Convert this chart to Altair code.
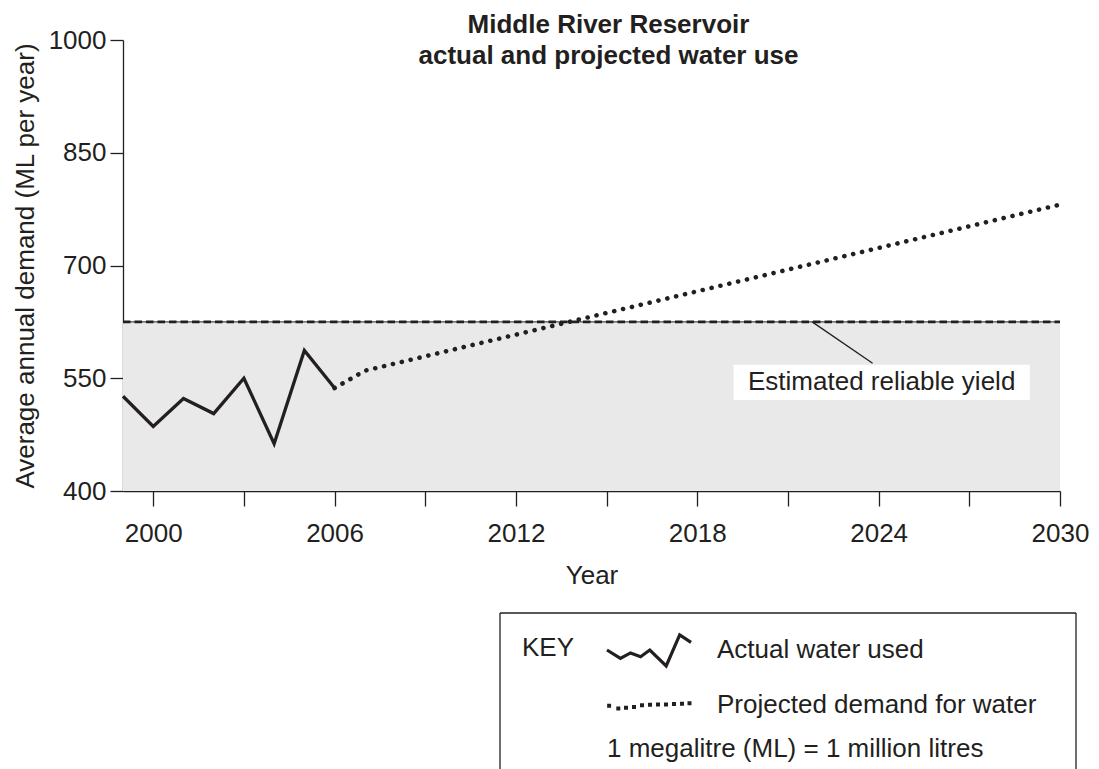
import altair as alt
import pandas as pd

# ---------------- data ----------------
actual_years = [1999, 2000, 2001, 2002, 2003, 2004, 2005, 2006]
actual_values = [526, 486, 523, 503, 550, 463, 587, 537]

projected_years = [2006, 2007, 2030]
projected_values = [537, 560, 781]

reliable_yield = 625
shade_floor = 400

x_domain = [1999, 2030]
y_domain = [400, 1000]
x_tick_values = [2000, 2003, 2006, 2009, 2012, 2015, 2018, 2021, 2024, 2027, 2030]
y_tick_values = [400, 550, 700, 850, 1000]

series_names = ["Actual water used", "Projected demand for water"]

annotation_text = ["Estimated reliable yield"]
annotation_x = [2024.1]
annotation_y = [534]
leader_x = [2021.8]
leader_x2 = [2023.8]
leader_y = [625]
leader_y2 = [570]
label_box_x = [2019.2]
label_box_x2 = [2029.0]
label_box_y = [521]
label_box_y2 = [568]

note_text = ["1 megalitre (ML) = 1 million litres"]

title_lines = ["Middle River Reservoir", "actual and projected water use"]

# ---------------- style ----------------
INK = "#231f20"
FONT = "Liberation Sans"
FS = 26

# key glyph shapes (symbol units; 1 unit = 13 px)
zig_px = [(0, 0), (13.4, 8.4), (23.5, 2.9), (33.6, 6.7), (42.8, 0), (59.2, 16), (72.7, -15.1), (84, -7.6)]
dot_px = [(2.1, 0.8), (11.3, 3.4), (19.0, 2.7), (27.0, 2.0), (35.0, 0.3), (43.0, -0.2),
          (51.0, -0.4), (59.0, -0.6), (67.0, -0.9), (75.0, -1.2), (82.5, -1.7)]
U = 13.0


def to_unit(px, py):
    return (-1 + px / U, py / U)


zig_path = "M" + " L".join(f"{to_unit(px, py)[0]:.3f},{to_unit(px, py)[1]:.3f}" for px, py in zig_px)
d = 0.03
dot_parts = []
for px, py in dot_px:
    ux, uy = to_unit(px, py)
    dot_parts.append(
        f"M{ux - d:.3f},{uy - d:.3f} L{ux + d:.3f},{uy - d:.3f} L{ux + d:.3f},{uy + d:.3f} L{ux - d:.3f},{uy + d:.3f} Z"
    )
dot_path = " ".join(dot_parts)

x_scale = alt.Scale(domain=x_domain, nice=False, zero=False)
y_scale = alt.Scale(domain=y_domain, nice=False, zero=False)

x_axis = alt.Axis(
    values=x_tick_values, format="d",
    labelExpr="(datum.value - 2000) % 6 == 0 ? datum.label : ''",
    tickSize=15, tickWidth=1.3, tickColor=INK, domainColor=INK, domainWidth=1.3,
    labelFontSize=FS, labelColor=INK, labelPadding=14, labelFlush=False, labelOverlap=False,
    title="Year", titleFontSize=FS, titleFontWeight="normal", titleColor=INK, titlePadding=16,
    grid=False,
)
y_axis = alt.Axis(
    values=y_tick_values, format="d",
    tickSize=13, tickWidth=1.3, tickColor=INK, domainColor=INK, domainWidth=1.3,
    labelFontSize=FS, labelColor=INK, labelPadding=4, labelFlush=False, labelOverlap=False,
    title="Average annual demand (ML per year)", titleFontSize=FS, titleFontWeight="normal",
    titleColor=INK, titlePadding=10, grid=False,
)

band_df = pd.DataFrame({"x": [x_domain[0]], "x2": [x_domain[1]], "y": [shade_floor], "y2": [reliable_yield]})
band = alt.Chart(band_df).mark_rect(color="#e9e9e9").encode(
    x=alt.X("x:Q", scale=x_scale, axis=x_axis),
    x2="x2:Q",
    y=alt.Y("y:Q", scale=y_scale, axis=y_axis),
    y2="y2:Q",
)

yield_df = pd.DataFrame({"x": [x_domain[0]], "x2": [x_domain[1]], "y": [reliable_yield]})
yield_thin = alt.Chart(yield_df).mark_rule(color=INK, strokeWidth=1).encode(
    x="x:Q", x2="x2:Q", y="y:Q"
)
yield_dash = alt.Chart(yield_df).mark_rule(color=INK, strokeWidth=2.6, strokeDash=[7.5, 4]).encode(
    x="x:Q", x2="x2:Q", y="y:Q"
)

ann_df = pd.DataFrame({
    "bx": label_box_x, "bx2": label_box_x2, "by": label_box_y, "by2": label_box_y2,
    "lx": leader_x, "lx2": leader_x2, "ly": leader_y, "ly2": leader_y2,
    "tx": annotation_x, "ty": annotation_y, "t": annotation_text,
})
label_box = alt.Chart(ann_df).mark_rect(color="white").encode(
    x="bx:Q", x2="bx2:Q", y="by:Q", y2="by2:Q"
)
leader = alt.Chart(ann_df).mark_rule(color=INK, strokeWidth=1.3).encode(
    x="lx:Q", x2="lx2:Q", y="ly:Q", y2="ly2:Q"
)
ann_text = alt.Chart(ann_df).mark_text(
    fontSize=FS, color=INK, align="center", baseline="alphabetic", font=FONT
).encode(x="tx:Q", y="ty:Q", text="t:N")

actual_df = pd.DataFrame({"year": actual_years, "value": actual_values})
actual_line = alt.Chart(actual_df).mark_line(
    color=INK, strokeWidth=3.3, strokeJoin="miter", strokeCap="butt"
).encode(x="year:Q", y="value:Q")

proj_df = pd.DataFrame({"year": projected_years, "value": projected_values})
proj_line = alt.Chart(proj_df).mark_line(
    color=INK, strokeWidth=4.6, strokeDash=[0.1, 9], strokeCap="round"
).encode(x="year:Q", y="value:Q")

legend_df = pd.DataFrame({"series": series_names})
legend_layer = alt.Chart(legend_df).mark_point(color=INK, filled=False).encode(
    shape=alt.Shape(
        "series:N",
        scale=alt.Scale(domain=series_names, range=[zig_path, dot_path]),
        legend=alt.Legend(
            orient="none", legendX=399, legendY=595, padding=0,
            title="KEY", titleOrient="left", titleFontSize=FS, titleFontWeight="normal",
            titleColor=INK, titlePadding=30, titleAnchor="start", titleBaseline="top",
            labelFontSize=FS, labelColor=INK, labelOffset=82, labelLimit=500,
            symbolSize=676, symbolStrokeWidth=3.2, symbolStrokeColor=INK, symbolFillColor="transparent",
            symbolOpacity=1, rowPadding=17,
        ),
    ),
    opacity=alt.value(0),
).transform_filter("datum.series == 'none'")

one = pd.DataFrame({"k": [0]})
box_left = alt.Chart(one).mark_rule(color=INK, strokeWidth=1.3).encode(
    x=alt.value(377), y=alt.value(573), y2=alt.value(760))
box_top = alt.Chart(one).mark_rule(color=INK, strokeWidth=1.3).encode(
    x=alt.value(377), x2=alt.value(953), y=alt.value(573))
box_right = alt.Chart(one).mark_rule(color=INK, strokeWidth=1.3).encode(
    x=alt.value(953), y=alt.value(573), y2=alt.value(760))
note_df = pd.DataFrame({"t": note_text})
note = alt.Chart(note_df).mark_text(
    fontSize=FS, color=INK, align="left", baseline="middle", font=FONT
).encode(x=alt.value(484), y=alt.value(709), text="t:N")

chart = alt.layer(
    band, yield_thin, yield_dash, label_box, leader, ann_text, actual_line, proj_line,
    legend_layer, box_left, box_top, box_right, note,
).properties(
    width=937, height=451,
    title=alt.Title(title_lines, fontSize=FS, fontWeight="bold", color=INK, anchor="middle",
                    dx=17, offset=-42, lineHeight=31, font=FONT),
    autosize=alt.AutoSizeParams(type="none"),
    padding={"left": 115, "top": 32, "right": 30, "bottom": 290},
).configure(font=FONT).configure_view(stroke="transparent")

chart.save("out.html", embed_options={"renderer": "svg", "actions": False})
